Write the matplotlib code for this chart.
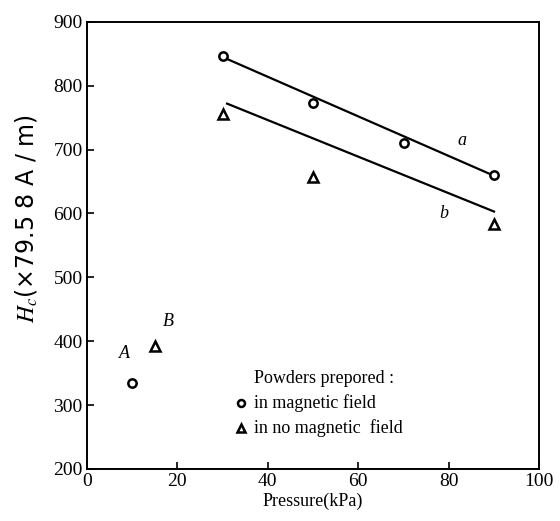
import matplotlib
matplotlib.use('Agg')
import matplotlib.pyplot as plt

# powders prepared in magnetic field (circles)
p_field = [30, 50, 70, 90]
hc_field = [847, 773, 711, 661]
# powders prepared in no magnetic field (triangles)
p_nofield = [30, 50, 90]
hc_nofield = [755, 657, 584]
# isolated points A and B
p_A, hc_A = [10], [334]
p_B, hc_B = [15], [392]
# fitted lines a and b
line_a_x = [30, 90]
line_a_y = [845, 659]
line_b_x = [31, 90]
line_b_y = [772, 603]

plt.rcParams['font.family'] = ['Liberation Serif', 'DejaVu Serif']
plt.rcParams['mathtext.fontset'] = 'stix'

fig = plt.figure(figsize=(5.6, 5.21), dpi=100)
ax = fig.add_axes([0.155, 0.1, 0.808, 0.858])

ax.plot(line_a_x, line_a_y, color='black', lw=1.6)
ax.plot(line_b_x, line_b_y, color='black', lw=1.6)
ax.plot(p_field, hc_field, 'o', ms=6, mfc='white', mec='black', mew=1.8)
ax.plot(p_nofield, hc_nofield, '^', ms=7, mfc='white', mec='black', mew=1.8)
ax.plot(p_A, hc_A, 'o', ms=6, mfc='white', mec='black', mew=1.8)
ax.plot(p_B, hc_B, '^', ms=7, mfc='white', mec='black', mew=1.8)

ax.text(83, 714, 'a', fontsize=13, style='italic', ha='center', va='center')
ax.text(79, 600, 'b', fontsize=13, style='italic', ha='center', va='center')
ax.text(8.4, 380, 'A', fontsize=13, style='italic', ha='center', va='center')
ax.text(18, 431, 'B', fontsize=13, style='italic', ha='center', va='center')

# legend drawn as text block
ax.text(37, 341, 'Powders prepored :', fontsize=13, ha='left', va='center')
ax.plot([34], [303], 'o', ms=5, mfc='white', mec='black', mew=1.8)
ax.text(37, 303, 'in magnetic field', fontsize=13, ha='left', va='center')
ax.plot([34], [264], '^', ms=6, mfc='white', mec='black', mew=1.8)
ax.text(37, 264, 'in no magnetic  field', fontsize=13, ha='left', va='center')

ax.set_xlim(0, 100)
ax.set_ylim(200, 900)
ax.set_xticks([0, 20, 40, 60, 80, 100])
ax.set_yticks([200, 300, 400, 500, 600, 700, 800, 900])
ax.tick_params(direction='in', length=5, width=1.2, labelsize=14, pad=3)
for s in ax.spines.values():
    s.set_linewidth(1.4)

ax.set_xlabel('Pressure(kPa)', fontsize=13, labelpad=2)
ax.set_ylabel(r'$H_c$(×79.5 8 A / m)', fontsize=17,
              family=['DejaVu Sans'])
ax.yaxis.set_label_coords(-0.105, 0.56)

fig.savefig('out.png', dpi=100)
